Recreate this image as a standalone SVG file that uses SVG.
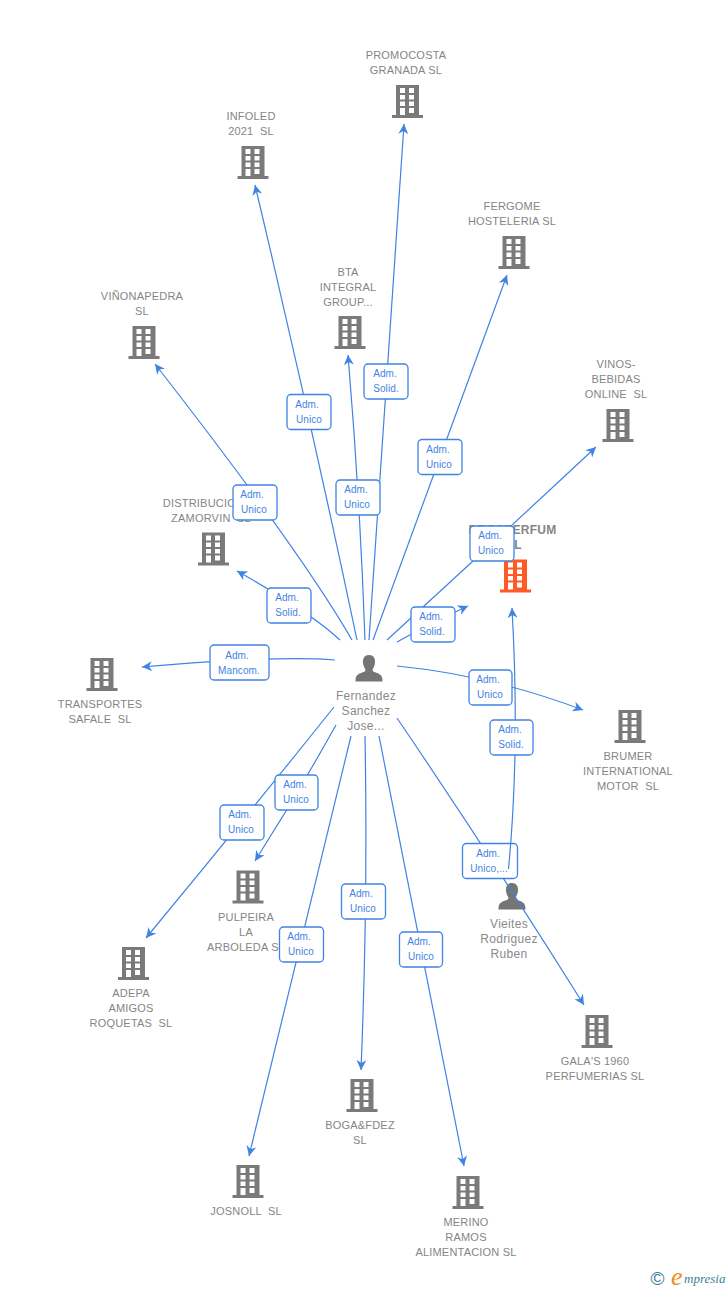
<svg xmlns="http://www.w3.org/2000/svg" width="728" height="1290" viewBox="0 0 728 1290">
<style>
text{font-family:"Liberation Sans",Arial,sans-serif;white-space:pre}
.n{font-size:11px;fill:#858585;text-anchor:middle;letter-spacing:.2px}
.p{font-size:12px;fill:#8a8a8a;text-anchor:middle;letter-spacing:.3px}
.o{font-size:12px;font-weight:bold;fill:#858585;text-anchor:middle;letter-spacing:.25px}
.c{fill:none;stroke:#3f83e4;stroke-width:1.2}
.b{fill:#fff;stroke:#3f83e4;stroke-width:1.3}
.l{font-size:10px;fill:#3f83e4;text-anchor:middle;letter-spacing:.1px}
</style>
<defs>
<marker id="a" markerUnits="userSpaceOnUse" markerWidth="12" markerHeight="12" refX="10" refY="6" orient="auto"><path d="M0,1 L10,6 L0,11 L3,6Z" fill="#3f83e4"/></marker>
<symbol id="bld" viewBox="-16 0 32 33" width="32" height="33" overflow="visible">
<path fill-rule="evenodd" d="M-11.5,0H11.5V30H15.5V33H-15.5V30H-11.5ZM-7.5,3V8H-2.5V3ZM1.5,3V8H6.5V3ZM-7.5,10V14.5H-2.5V10ZM1.5,10V14.5H6.5V10ZM-7.5,16.5V21H-2.5V16.5ZM1.5,16.5V21H6.5V16.5ZM-7.5,23V30H-2.5V23ZM1.5,23V28H6.5V23Z"/>
</symbol>
<symbol id="per" viewBox="-14 0 28 27" width="28" height="27" overflow="visible">
<path d="M0,0C4.5,0 6.5,3.5 6,8C5.7,11 4.5,13 3.5,14.500C3.5,16.5 5,17 8,18C12,19.5 13.500,21 13.500,26.500H-13.500C-13.500,21 -12,19.5 -8,18C-5,17 -3.5,16.5 -3.500,14.500C-4.500,13 -5.700,11 -6,8C-6.500,3.500 -4.500,0 0,0Z"/>
</symbol>
</defs>
<g id="n-promocosta"><text class="n" x="406" y="59">PROMOCOSTA</text><text class="n" x="406" y="74">GRANADA SL</text><use href="#bld" x="391.500" y="85" fill="#7a7a7a"/></g>
<g id="n-infoled"><text class="n" x="251" y="120">INFOLED</text><text class="n" x="251" y="135">2021  SL</text><use href="#bld" x="237" y="146" fill="#7a7a7a"/></g>
<g id="n-fergome"><text class="n" x="512" y="210">FERGOME</text><text class="n" x="512" y="225">HOSTELERIA SL</text><use href="#bld" x="498" y="236" fill="#7a7a7a"/></g>
<g id="n-bta"><text class="n" x="348" y="276">BTA</text><text class="n" x="348" y="291">INTEGRAL</text><text class="n" x="348" y="306">GROUP...</text><use href="#bld" x="334" y="316" fill="#7a7a7a"/></g>
<g id="n-vinonapedra"><text class="n" x="142" y="300">VIÑONAPEDRA</text><text class="n" x="142" y="315">SL</text><use href="#bld" x="128" y="326" fill="#7a7a7a"/></g>
<g id="n-vinos"><text class="n" x="616" y="368">VINOS-</text><text class="n" x="616" y="383">BEBIDAS</text><text class="n" x="616" y="398">ONLINE  SL</text><use href="#bld" x="602" y="409" fill="#7a7a7a"/></g>
<g id="n-distribuciones"><text class="n" x="211" y="507">DISTRIBUCIONES</text><text class="n" x="211" y="522">ZAMORVIN  SL</text><use href="#bld" x="197.500" y="532.500" fill="#7a7a7a"/></g>
<g id="n-main"><text class="o" x="512.500" y="534">DROSPERFUM</text><text class="o" x="514" y="549">SL</text><use href="#bld" x="499.500" y="559.500" fill="#ff5a26"/></g>
<g id="n-transportes"><text class="n" x="100" y="708">TRANSPORTES</text><text class="n" x="100" y="723">SAFALE  SL</text><use href="#bld" x="86" y="658" fill="#7a7a7a"/></g>
<g id="n-brumer"><text class="n" x="628" y="760">BRUMER</text><text class="n" x="628" y="775">INTERNATIONAL</text><text class="n" x="628" y="790">MOTOR  SL</text><use href="#bld" x="614" y="710" fill="#7a7a7a"/></g>
<g id="n-pulpeira"><text class="n" x="246" y="921">PULPEIRA</text><text class="n" x="246" y="936">LA</text><text class="n" x="246" y="951">ARBOLEDA SL</text><use href="#bld" x="232" y="870.500" fill="#7a7a7a"/></g>
<g id="n-adepa"><text class="n" x="131" y="997">ADEPA</text><text class="n" x="131" y="1012">AMIGOS</text><text class="n" x="131" y="1027">ROQUETAS  SL</text><use href="#bld" x="117.500" y="947" fill="#7a7a7a"/></g>
<g id="n-gala"><text class="n" x="595" y="1065">GALA'S 1960</text><text class="n" x="595" y="1080">PERFUMERIAS SL</text><use href="#bld" x="581" y="1015" fill="#7a7a7a"/></g>
<g id="n-boga"><text class="n" x="360" y="1129">BOGA&amp;FDEZ</text><text class="n" x="360" y="1144">SL</text><use href="#bld" x="346" y="1079" fill="#7a7a7a"/></g>
<g id="n-josnoll"><text class="n" x="246" y="1215">JOSNOLL  SL</text><use href="#bld" x="232" y="1165" fill="#7a7a7a"/></g>
<g id="n-merino"><text class="n" x="466" y="1226">MERINO</text><text class="n" x="466" y="1241">RAMOS</text><text class="n" x="466" y="1256">ALIMENTACION SL</text><use href="#bld" x="452" y="1176" fill="#7a7a7a"/></g>
<g id="n-fernandez"><use href="#per" x="355" y="655" fill="#757575"/><text class="p" x="366" y="700">Fernandez</text><text class="p" x="366" y="715">Sanchez</text><text class="p" x="366" y="730">Jose...</text></g>
<g id="n-vieites"><use href="#per" x="498" y="883" fill="#757575"/><text class="p" x="509" y="928">Vieites</text><text class="p" x="509" y="943">Rodriguez</text><text class="p" x="509" y="958">Ruben</text></g>
<g id="connectors">
<path class="c" marker-end="url(#a)" d="M369,640Q386,381 404,124"/>
<path class="c" marker-end="url(#a)" d="M357,640Q309,412 255,185"/>
<path class="c" marker-end="url(#a)" d="M373,640Q440,457 507,275"/>
<path class="c" marker-end="url(#a)" d="M365,640Q360,497 348,355"/>
<path class="c" marker-end="url(#a)" d="M352,640Q300,550 155,364"/>
<path class="c" marker-end="url(#a)" d="M387,640Q492,544 596,447"/>
<path class="c" marker-end="url(#a)" d="M340,640Q310,612 237,571"/>
<path class="c" marker-end="url(#a)" d="M397,642Q433,622 468,606"/>
<path class="c" marker-end="url(#a)" d="M335,660Q280,655 142,667"/>
<path class="c" marker-end="url(#a)" d="M397,666Q490,675 583,710"/>
<path class="c" marker-end="url(#a)" d="M336,725Q297,795 255,861"/>
<path class="c" marker-end="url(#a)" d="M334,707Q242,822 146,938"/>
<path class="c" marker-end="url(#a)" d="M351,736Q301,944 249,1156"/>
<path class="c" marker-end="url(#a)" d="M365,736Q368,900 361,1070"/>
<path class="c" marker-end="url(#a)" d="M379,736Q421,949 464,1166"/>
<path class="c" marker-end="url(#a)" d="M397,718Q492,858 584,1005"/>
</g>
<g id="label-vieites-fernandez"><rect class="b" x="462.500" y="843.500" width="55" height="35" rx="4"/><text class="l" x="488" y="857">Adm.</text><text class="l" x="489" y="872">Unico,...</text></g>
<g id="connectors-vieites">
<path class="c" marker-end="url(#a)" d="M508.500,869Q520,750 512,608"/>
</g>
<g id="labels">
<g><rect class="b" x="364" y="364" width="44" height="35" rx="4"/><text class="l" x="385" y="377">Adm.</text><text class="l" x="386" y="392">Solid.</text></g>
<g><rect class="b" x="287" y="394.500" width="44" height="35" rx="4"/><text class="l" x="307" y="408">Adm.</text><text class="l" x="309" y="423">Unico</text></g>
<g><rect class="b" x="418" y="439.500" width="44" height="35" rx="4"/><text class="l" x="438" y="453">Adm.</text><text class="l" x="439" y="468">Unico</text></g>
<g><rect class="b" x="336" y="480" width="44" height="35" rx="4"/><text class="l" x="356" y="493">Adm.</text><text class="l" x="357" y="508">Unico</text></g>
<g><rect class="b" x="233" y="485" width="44" height="35" rx="4"/><text class="l" x="252" y="498">Adm.</text><text class="l" x="254" y="513">Unico</text></g>
<g><rect class="b" x="470" y="526" width="44" height="35" rx="4"/><text class="l" x="490" y="539">Adm.</text><text class="l" x="491" y="554">Unico</text></g>
<g><rect class="b" x="267" y="588" width="44" height="35" rx="4"/><text class="l" x="287" y="601">Adm.</text><text class="l" x="288" y="616">Solid.</text></g>
<g><rect class="b" x="411" y="607" width="44" height="35" rx="4"/><text class="l" x="431" y="620">Adm.</text><text class="l" x="432" y="635">Solid.</text></g>
<g><rect class="b" x="210" y="645" width="59" height="35" rx="4"/><text class="l" x="237" y="659">Adm.</text><text class="l" x="239" y="674">Mancom.</text></g>
<g><rect class="b" x="469" y="670" width="43" height="35" rx="4"/><text class="l" x="488" y="683">Adm.</text><text class="l" x="490" y="698">Unico</text></g>
<g><rect class="b" x="490" y="720" width="43" height="35" rx="4"/><text class="l" x="510" y="733">Adm.</text><text class="l" x="511" y="748">Solid.</text></g>
<g><rect class="b" x="275" y="775" width="43" height="35" rx="4"/><text class="l" x="295" y="788">Adm.</text><text class="l" x="296" y="803">Unico</text></g>
<g><rect class="b" x="220" y="805" width="44" height="35" rx="4"/><text class="l" x="240" y="818">Adm.</text><text class="l" x="241" y="833">Unico</text></g>
<g><rect class="b" x="341.500" y="884" width="44" height="35" rx="4"/><text class="l" x="361" y="897">Adm.</text><text class="l" x="363" y="912">Unico</text></g>
<g><rect class="b" x="279.500" y="927" width="44" height="35" rx="4"/><text class="l" x="299" y="940">Adm.</text><text class="l" x="301" y="955">Unico</text></g>
<g><rect class="b" x="399.500" y="932" width="43" height="35" rx="4"/><text class="l" x="419" y="945">Adm.</text><text class="l" x="421" y="960">Unico</text></g>
</g>
<g id="logo">
<text x="650.500" y="1285" font-size="19" fill="#3a7f96">©</text>
<text x="671" y="1285" font-size="26" font-style="italic" fill="#ef8a1d" style="font-family:'Liberation Serif',serif">e</text>
<text x="684" y="1283" font-size="13" font-style="italic" fill="#3a7f96" style="font-family:'Liberation Serif',serif">mpresia</text>
</g>
</svg>
